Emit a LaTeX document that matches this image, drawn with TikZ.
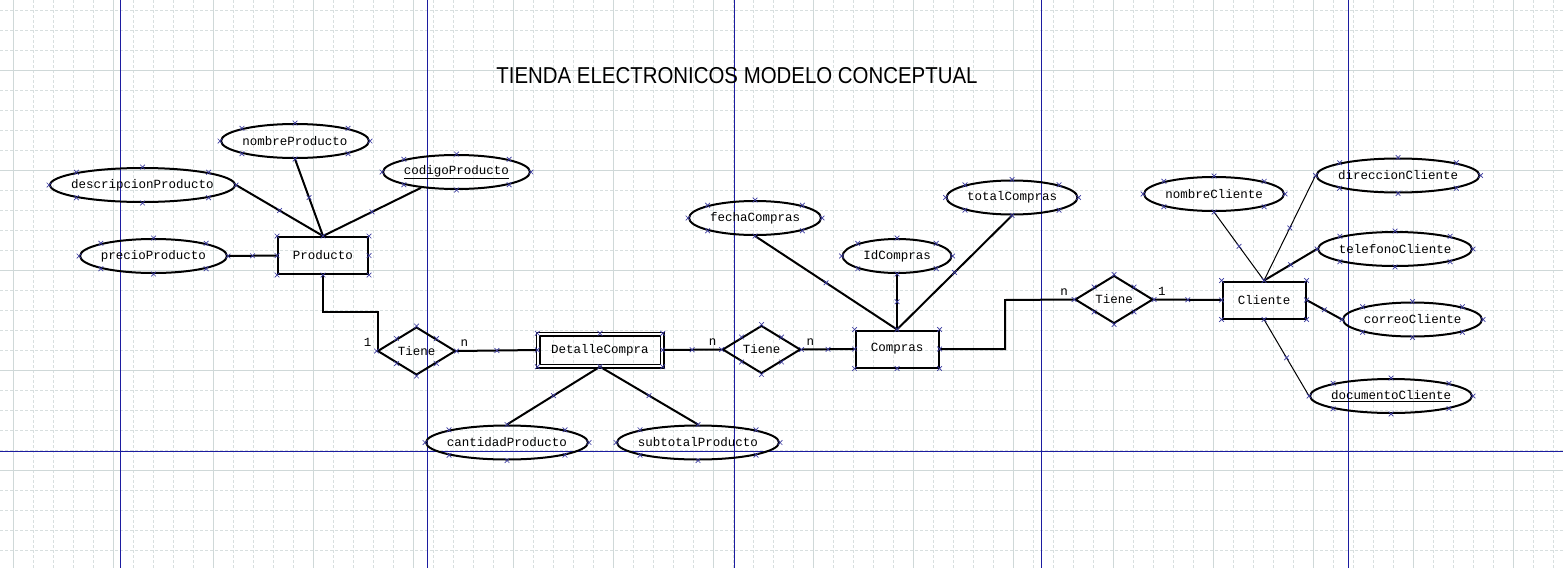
\documentclass[tikz,border=0pt]{standalone}
\usepackage{fontspec}
\usepackage{graphicx}
\usetikzlibrary{shapes.geometric,shapes.misc,positioning}
\newfontfamily\ermono{Liberation Mono}
\newfontfamily\ertitle{Liberation Sans}
\definecolor{gridmin}{HTML}{D8DFDF}
\definecolor{gridmaj}{HTML}{CFD8D8}
\definecolor{guia}{HTML}{1C1CA0}
\definecolor{marca}{HTML}{3C3CA0}
\tikzset{
  txt/.style={font=\ermono\fontsize{12.5}{14}\selectfont},
  entidad/.style={txt,rectangle,draw,line width=2pt,minimum height=37pt,inner sep=2pt},
  debil/.style={txt,rectangle,draw,double,double distance=2.2pt,line width=1.4pt,minimum height=32pt,inner sep=2pt},
  relacion/.style={txt,diamond,draw,line width=2pt,minimum width=78pt,minimum height=48pt,inner sep=0pt},
  atributo/.style={txt,ellipse,draw,line width=2pt,minimum height=34pt,inner xsep=-8pt},
  rel/.style={line width=2pt},
  fino/.style={line width=1pt},
  card/.style={txt,inner sep=2pt},
  marcax/.style={cross out,draw=marca,line width=.7pt,minimum size=4pt,inner sep=0pt}
}
\begin{document}
\begin{tikzpicture}[x=1pt,y=-1pt]
    \useasboundingbox (0,0) rectangle (1563,568);
    \fill[white] (0,0) rectangle (1563,568);
    \foreach \x in {13.5,33.5,...,1563} \draw[gridmin,line width=1pt,dash pattern=on 3pt off 2pt] (\x,0) -- (\x,568);
    \foreach \y in {10.5,30.5,...,568} \draw[gridmin,line width=1pt,dash pattern=on 3pt off 2pt] (0,\y) -- (1563,\y);
    \foreach \x in {13.5,113.5,...,1563} \draw[gridmaj,line width=1pt] (\x,0) -- (\x,568);
    \foreach \y in {70.5,170.5,...,568} \draw[gridmaj,line width=1pt] (0,\y) -- (1563,\y);
    \foreach \x in {120.5,427.5,...,1563} \draw[guia,line width=1.1pt] (\x,0) -- (\x,568);
    \draw[guia,line width=1.1pt] (0,451.5) -- (1563,451.5);

    \node[font=\ertitle\fontsize{23}{27}\selectfont](titulo) at (737,76){\scalebox{.888}[1]{TIENDA ELECTRONICOS MODELO CONCEPTUAL}};

    \node[entidad,minimum width=90pt](prod) at (323,255.5){Producto};
    \node[debil,minimum width=124pt](det) at (600,350){DetalleCompra};
    \node[entidad,minimum width=83pt](comp) at (897,349){Compras};
    \node[entidad,minimum width=83pt](cli) at (1264,300){Cliente};

    \node[relacion](t1) at (416.5,351){Tiene};
    \node[relacion](t2) at (761.5,349.5){Tiene};
    \node[relacion](t3) at (1114,299.5){Tiene};

    \node[atributo,minimum width=148pt](nomP) at (295,141){nombreProducto};
    \node[atributo,minimum width=185pt](desP) at (142.5,185){descripcionProducto};
    \node[atributo,minimum width=147pt](codP) at (456.5,172){\underline{codigoProducto}};
    \node[atributo,minimum width=147pt](preP) at (153.5,256){precioProducto};
    \node[atributo,minimum width=162pt](canP) at (507,442.5){cantidadProducto};
    \node[atributo,minimum width=162pt](subP) at (698,442.5){subtotalProducto};
    \node[atributo,minimum width=132pt](fecC) at (755,218){fechaCompras};
    \node[atributo,minimum width=109pt](idC) at (897,256){IdCompras};
    \node[atributo,minimum width=131pt](totC) at (1012,197.5){totalCompras};
    \node[atributo,minimum width=140pt](nomC) at (1214,194){nombreCliente};
    \node[atributo,minimum width=163pt](dirC) at (1398,175.5){direccionCliente};
    \node[atributo,minimum width=154pt](telC) at (1395,249){telefonoCliente};
    \node[atributo,minimum width=139pt](corC) at (1412.5,319.5){correoCliente};
    \node[atributo,minimum width=162pt](docC) at (1391,396){\underline{documentoCliente}};

    \coordinate (codo1) at (378,312);
    \coordinate (codo2) at (1005,300);
    \draw[rel] (prod.south) |- (codo1) |- (t1.west);
    \draw[rel] (comp.east) -| (codo2) -- (t3.west);
    \path[rel] (t1.east) edge node[marcax]{} (det.west)
    (det.east) edge node[marcax]{} (t2.west)
    (t2.east) edge node[marcax]{} (comp.west)
    (t3.east) edge node[marcax]{} (cli.west);

    \node[card,above left=2pt and 3pt of t1.west]{1};
    \node[card,above right=2pt and 2pt of t1.east]{n};
    \node[card,above left=2pt and 3pt of t2.west]{n};
    \node[card,above right=2pt and 3pt of t2.east]{n};
    \node[card,above left=2pt and 4pt of t3.west]{n};
    \node[card,above right=2pt and 2pt of t3.east]{1};

    \path[rel] (desP.east) edge node[marcax]{} (prod.north)
    (nomP.south) edge node[marcax]{} (prod.north)
    (codP.204) edge node[marcax]{} (prod.north)
    (preP.east) edge node[marcax]{} (prod.west)
    (det.south) edge node[marcax]{} (canP.north)
    (det.south) edge node[marcax]{} (subP.north)
    (fecC.south) edge node[marcax]{} (comp.north)
    (idC.south) edge node[marcax]{} (comp.north)
    (totC.south) edge node[marcax]{} (comp.north)
    (telC.west) edge node[marcax]{} (cli.north)
    (cli.east) edge node[marcax]{} (corC.west);
    \path[fino] (nomC.south) edge node[marcax]{} (cli.north)
    (dirC.west) edge node[marcax]{} (cli.north)
    (docC.west) edge node[marcax]{} (cli.south);

    \foreach \n in {prod,det,comp,cli,t1,t2,t3,nomP,desP,codP,preP,canP,subP,fecC,idC,totC,nomC,dirC,telC,corC,docC}
      \foreach \a in {north,south,east,west,north east,north west,south east,south west}
        \node[marcax] at (\n.\a){};

\end{tikzpicture}
\end{document}
